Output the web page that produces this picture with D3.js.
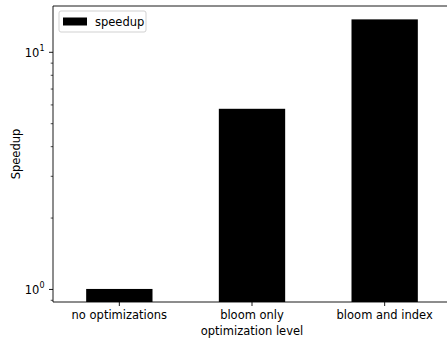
<!DOCTYPE html>
<html>
<head>
<meta charset="utf-8">
<script src="https://cdn.jsdelivr.net/npm/d3@7"></script>
<style>
  body { margin: 0; background: #fff; }
  svg text { font-family: "DejaVu Sans", sans-serif; fill: #000; }
</style>
</head>
<body>
<script>
// chart data
var categories = ['no optimizations', 'bloom only', 'bloom and index'];
var speedup = [1.0, 5.75, 13.7];
var majorTicks = [1, 10];
var minorTicks = [0.9, 2, 3, 4, 5, 6, 7, 8, 9];

var width = 447, height = 341;
var margin = {left: 53, top: 6, right: -4, bottom: 39};
var fs = 11.5;

var svg = d3.select('body').append('svg')
  .attr('width', width).attr('height', height);

var x = d3.scaleBand()
  .domain(categories)
  .range([margin.left, width - margin.right])
  .paddingInner(0.5).paddingOuter(0.25);

var y = d3.scaleLog()
  .domain([0.881, 15.6])
  .range([height - margin.bottom, margin.top]);

// bars
svg.selectAll('rect.bar')
  .data(speedup)
  .enter()
  .append('rect')
  .attr('class', 'bar')
  .attr('x', function (d, i) { return x(categories[i]); })
  .attr('width', x.bandwidth())
  .attr('y', function (d) { return y(d); })
  .attr('height', function (d) { return y.range()[0] - y(d); })
  .attr('fill', '#000');

// spines
var x0 = margin.left, x1 = width - margin.right;
var y0 = height - margin.bottom, y1 = margin.top;
svg.append('path')
  .attr('d', 'M' + x1 + ',' + y1 + 'H' + x0 + 'V' + y0 + 'H' + x1)
  .attr('fill', 'none').attr('stroke', '#000').attr('stroke-width', 0.9);

// x axis
var xAxis = svg.append('g')
  .attr('transform', 'translate(0,' + y0 + ')')
  .call(d3.axisBottom(x).tickSize(4).tickPadding(4.5));
xAxis.select('.domain').remove();
xAxis.selectAll('line').attr('stroke-width', 0.9);
xAxis.selectAll('text').attr('font-size', fs).style('font-family', '"DejaVu Sans", sans-serif');

// y axis, major
var yAxis = svg.append('g')
  .attr('transform', 'translate(' + x0 + ',0)')
  .call(d3.axisLeft(y).tickValues(majorTicks).tickSize(4).tickFormat(''));
yAxis.select('.domain').remove();
yAxis.selectAll('line').attr('stroke-width', 0.9);
yAxis.selectAll('.tick').append('text')
  .attr('x', -8.5).attr('dy', '0.4em')
  .attr('text-anchor', 'end')
  .attr('font-size', fs)
  .each(function (d) {
    var t = d3.select(this);
    t.append('tspan').text('10');
    t.append('tspan').attr('font-size', 8).attr('dy', '-0.75em').text(Math.round(Math.log10(d)));
  });

// y axis, minor
var yMinor = svg.append('g')
  .attr('transform', 'translate(' + x0 + ',0)')
  .call(d3.axisLeft(y).tickValues(minorTicks).tickSize(2.3).tickFormat(''));
yMinor.select('.domain').remove();
yMinor.selectAll('line').attr('stroke-width', 0.7);

// axis labels
svg.append('text')
  .attr('x', (x0 + 451) / 2).attr('y', 334.5)
  .attr('text-anchor', 'middle').attr('font-size', fs)
  .text('optimization level');

svg.append('text')
  .attr('transform', 'translate(20,' + ((y0 + y1) / 2) + ') rotate(-90)')
  .attr('text-anchor', 'middle').attr('font-size', fs)
  .text('Speedup');

// legend
var legend = svg.append('g').attr('transform', 'translate(59,11)');
legend.append('rect')
  .attr('width', 87).attr('height', 21).attr('rx', 2)
  .attr('fill', '#fff').attr('fill-opacity', 0.8)
  .attr('stroke', '#ccc').attr('stroke-width', 0.9);
legend.append('rect')
  .attr('x', 4).attr('y', 6.5).attr('width', 24).attr('height', 8)
  .attr('fill', '#000');
legend.append('text')
  .attr('x', 36).attr('y', 14.8).attr('font-size', fs)
  .text('speedup');
</script>
</body>
</html>
